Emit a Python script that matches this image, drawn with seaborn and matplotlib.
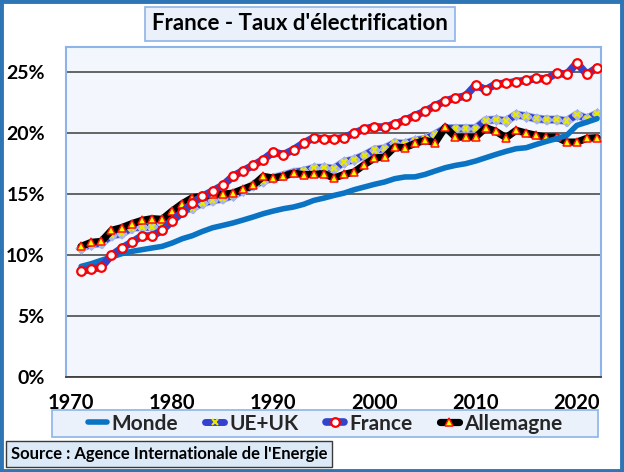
import matplotlib
matplotlib.use("Agg")
import matplotlib.pyplot as plt
import matplotlib.patheffects as pe
from matplotlib.patches import Rectangle
from matplotlib.lines import Line2D
from matplotlib.ticker import PercentFormatter
import seaborn as sns
import pandas as pd
import numpy as np

years = list(range(1971, 2023))

monde = [9.04, 9.26, 9.54, 9.81, 10.08, 10.27, 10.41, 10.55, 10.68, 10.96,
         11.31, 11.56, 11.91, 12.21, 12.40, 12.60, 12.84, 13.09, 13.36, 13.58,
         13.77, 13.91, 14.13, 14.45, 14.64, 14.86, 15.05, 15.33, 15.55, 15.77,
         15.96, 16.23, 16.37, 16.38, 16.58, 16.86, 17.13, 17.32, 17.46, 17.68,
         17.95, 18.22, 18.47, 18.69, 18.77, 19.04, 19.29, 19.51, 19.78, 20.60,
         20.87, 21.15]

ue_uk = [10.57, 10.85, 10.95, 11.58, 11.72, 12.21, 12.27, 12.27, 12.55, 13.22,
         13.60, 13.85, 14.23, 14.45, 14.59, 14.86, 15.25, 15.70, 16.05, 16.30,
         16.50, 16.75, 16.86, 17.10, 17.13, 17.05, 17.60, 17.80, 18.14, 18.60,
         18.70, 19.15, 19.10, 19.35, 19.48, 19.86, 20.36, 20.36, 20.36, 20.36,
         21.01, 21.07, 20.96, 21.48, 21.34, 21.15, 21.07, 21.07, 20.96, 21.48,
         21.15, 21.56]

france = [8.66, 8.80, 8.99, 9.95, 10.52, 11.01, 11.53, 11.53, 11.99, 12.76,
          13.47, 14.26, 14.78, 15.22, 15.68, 16.42, 16.88, 17.32, 17.79, 18.42,
          18.20, 18.61, 19.15, 19.59, 19.48, 19.48, 19.59, 19.97, 20.30, 20.49,
          20.44, 20.71, 21.01, 21.40, 21.75, 22.21, 22.60, 22.84, 23.01, 23.91,
          23.52, 23.99, 24.04, 24.18, 24.29, 24.45, 24.40, 24.89, 24.78, 25.71,
          24.78, 25.33]

allemagne = [10.68, 11.01, 11.09, 11.99, 12.21, 12.54, 12.81, 12.95, 12.90, 13.58,
             14.18, 14.67, 14.78, 14.95, 14.95, 15.05, 15.37, 15.68, 16.42, 16.28,
             16.42, 16.69, 16.56, 16.58, 16.64, 16.28, 16.58, 16.78, 17.38, 17.92,
             18.01, 18.83, 18.77, 19.12, 19.37, 19.18, 20.46, 19.64, 19.64, 19.64,
             20.41, 20.11, 19.59, 20.19, 19.97, 19.78, 19.64, 19.64, 19.23, 19.23,
             19.54, 19.59]

series_names = ["Monde", "UE+UK", "France", "Allemagne"]
x_ticks = [1970, 1980, 1990, 2000, 2010, 2020]
y_ticks = [0, 5, 10, 15, 20, 25]

title_text = "France - Taux d'électrification"
source_text = "Source : Agence Internationale de l'Energie"

df = pd.DataFrame({"Année": years, "Monde": monde, "UE+UK": ue_uk,
                   "France": france, "Allemagne": allemagne})

sns.set_theme(style="white")
plt.rcParams['font.family'] = ['Lato', 'DejaVu Sans']
plt.rcParams['font.weight'] = 'bold'

W, H = 624, 472
fig = plt.figure(figsize=(W / 100, H / 100), dpi=100)
fig.patch.set_facecolor("white")

ax = fig.add_axes([65.7 / W, 1 - 376.7 / H, (600.7 - 65.7) / W, (376.7 - 47.3) / H])
ax.set_facecolor("#F3F7FD")

styles = {
    "UE+UK": dict(color="#3340D0", lw=5.0, marker="x", ms=4.0, mec="#E8E800",
                  mew=1.5, z=2,
                  pe=[pe.Stroke(linewidth=6.2, foreground="#A8B4EA"), pe.Normal()]),
    "Allemagne": dict(color="black", lw=5.2, marker="^", ms=5.2, mfc="#FFFF00",
                      mec="#FF1010", mew=1.1, z=3, pe=None),
    "Monde": dict(color="#0A73C4", lw=4.0, marker=None, z=4, pe=None),
    "France": dict(color="#3344CC", lw=5.5, marker="o", ms=6.2, mfc="white",
                   mec="#FF0000", mew=1.6, z=5, pe=None),
}

for name in ["UE+UK", "Allemagne", "Monde", "France"]:
    s = styles[name]
    kw = dict(color=s["color"], linewidth=s["lw"], zorder=s["z"])
    if s["marker"]:
        kw.update(marker=s["marker"], markersize=s["ms"], markeredgecolor=s["mec"],
                  markeredgewidth=s["mew"])
        if "mfc" in s:
            kw["markerfacecolor"] = s["mfc"]
    sns.lineplot(data=df, x="Année", y=name, ax=ax, legend=False, **kw)
    if s["pe"]:
        ax.lines[-1].set_path_effects(s["pe"])

ax.set_xlim(1969.48, 2022.36)
ax.set_ylim(0, 27)
ax.set_xticks(x_ticks)
ax.set_yticks(y_ticks)
ax.yaxis.set_major_formatter(PercentFormatter(decimals=0))
ax.grid(axis="y", color="#595959", linewidth=1.3, zorder=1)
ax.grid(axis="x", visible=False)
ax.set_axisbelow(True)
ax.set_xlabel("")
ax.set_ylabel("")
ax.tick_params(axis="x", length=0, pad=12, labelsize=14.5)
ax.tick_params(axis="y", length=0, pad=15, labelsize=14)
for lab in ax.get_xticklabels() + ax.get_yticklabels():
    lab.set_fontweight("bold")
    lab.set_color("black")
for side, sp in ax.spines.items():
    sp.set_color("#8DB4E8")
    sp.set_linewidth(1.5)
ax.spines["bottom"].set_color("#404040")
ax.spines["bottom"].set_linewidth(1.3)

# Legend frame
fig.patches.append(Rectangle((52 / W, 1 - 437 / H), (598 - 52) / W, 27 / H,
                             transform=fig.transFigure, facecolor="#EAF1FB",
                             edgecolor="#8DB4E8", linewidth=1.2, zorder=0))

handles = []
for name in series_names:
    s = styles[name]
    h = Line2D([0], [0], color=s["color"], linewidth=s["lw"],
               marker=s["marker"] if s["marker"] else None,
               markersize=s.get("ms", 0), markeredgecolor=s.get("mec", s["color"]),
               markerfacecolor=s.get("mfc", s.get("mec", s["color"])),
               markeredgewidth=s.get("mew", 0), solid_capstyle="round")
    handles.append(h)
leg = fig.legend(handles, series_names, loc="center",
                 bbox_to_anchor=(325 / W, 1 - 423.5 / H),
                 ncol=4, frameon=False,
                 handlelength=0.9, handletextpad=0.25, columnspacing=1.3,
                 numpoints=1, prop=dict(size=15, weight="bold"))

# Title
fig.text(300 / W, 1 - 24 / H, title_text, ha="center", va="center",
         fontsize=16, fontweight="bold", color="black",
         bbox=dict(boxstyle="square,pad=0.3", facecolor="#EAF1FB",
                   edgecolor="#8DB4E8", linewidth=1.2))

# Source
fig.text(11 / W, 1 - 454 / H, source_text, ha="left", va="center",
         fontsize=12, fontweight="bold", color="black",
         bbox=dict(boxstyle="square,pad=0.28", facecolor="#DCEAF8",
                   edgecolor="#3A3A3A", linewidth=1.0))

# Outer border
fig.patches.append(Rectangle((0.002, 0.003), 0.995, 0.994, transform=fig.transFigure,
                             fill=False, edgecolor="#2E75B6", linewidth=3.5))

fig.savefig("out.png", dpi=100)
